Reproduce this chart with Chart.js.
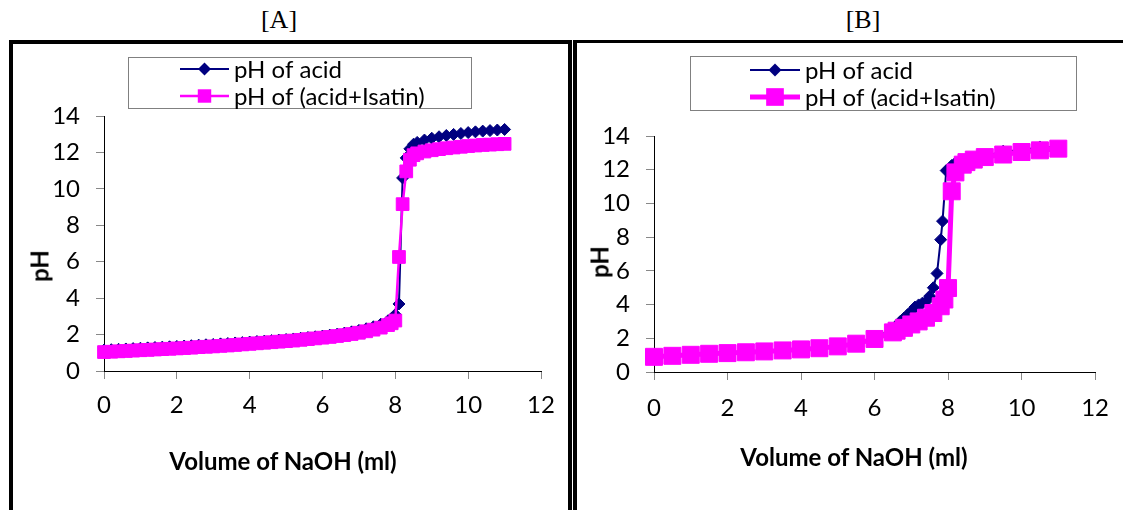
<!DOCTYPE html>
<html>
<head>
<meta charset="utf-8">
<script src="https://cdn.jsdelivr.net/npm/chart.js"></script>
<style>
  body { margin:0; width:1123px; height:510px; background:#fff; overflow:hidden; position:relative; font-family: Lato, sans-serif; }
  .panelTitle { position:absolute; top:5px; font-family:"Liberation Serif", serif; font-size:26px; color:#000; transform:translateX(-50%); }
  #frameA { position:absolute; left:9px; top:40px; width:555px; height:600px; border:4px solid #000; }
  #frameB { position:absolute; left:573px; top:40px; width:600px; height:600px; border-top:3px solid #000; border-left:4px solid #000; }
  canvas { position:absolute; }
  .xTitle { position:absolute; font-weight:bold; font-size:24px; color:#000; white-space:nowrap; transform:translate(-50%,-50%); }
  .yTitle { position:absolute; font-weight:bold; font-size:24px; color:#000; transform:translate(-50%,-50%) rotate(-90deg); }
</style>
</head>
<body>
<div class="panelTitle" style="left:279px">[A]</div>
<div class="panelTitle" style="left:863px">[B]</div>
<div id="frameA"></div>
<div id="frameB"></div>
<canvas id="chartA" width="555" height="466" style="left:13px;top:44px"></canvas>
<canvas id="chartB" width="546" height="466" style="left:577px;top:44px"></canvas>
<div class="yTitle" style="left:39px;top:266px">pH</div>
<div class="yTitle" style="left:599px;top:262px">pH</div>
<div class="xTitle" style="left:283px;top:460px">Volume of NaOH (ml)</div>
<div class="xTitle" style="left:854px;top:456px">Volume of NaOH (ml)</div>
<script>
// [A] titration, same volumes for both series
const volA = [0, 0.2, 0.4, 0.6, 0.8, 1, 1.2, 1.4, 1.6, 1.8, 2, 2.2, 2.4, 2.6, 2.8, 3, 3.2, 3.4, 3.6, 3.8,
  4, 4.2, 4.4, 4.6, 4.8, 5, 5.2, 5.4, 5.6, 5.8, 6, 6.2, 6.4, 6.6, 6.8, 7, 7.2, 7.4, 7.6, 7.8,
  7.9, 8, 8.1, 8.2, 8.3, 8.4, 8.5, 8.6, 8.8, 9, 9.2, 9.4, 9.6, 9.8, 10, 10.2, 10.4, 10.6, 10.8, 11];
const acidA = [1.15, 1.17, 1.19, 1.21, 1.23, 1.25, 1.27, 1.29, 1.31, 1.33,
  1.35, 1.37, 1.39, 1.42, 1.44, 1.46, 1.49, 1.51, 1.54, 1.56,
  1.59, 1.62, 1.64, 1.67, 1.70, 1.73, 1.76, 1.80, 1.84, 1.88,
  1.92, 1.97, 2.02, 2.08, 2.15, 2.23, 2.32, 2.43, 2.57, 2.76,
  2.9, 3.1, 3.68, 10.6, 11.7, 12.2, 12.45, 12.55,
  12.68, 12.78, 12.86, 12.93, 12.99, 13.04, 13.09, 13.13, 13.17, 13.2, 13.23, 13.26];
const isatinA = [1.04, 1.06, 1.08, 1.10, 1.12, 1.14, 1.16, 1.18, 1.20, 1.22,
  1.24, 1.26, 1.28, 1.31, 1.33, 1.35, 1.38, 1.40, 1.43, 1.46,
  1.49, 1.52, 1.55, 1.58, 1.61, 1.64, 1.67, 1.71, 1.75, 1.79,
  1.83, 1.87, 1.92, 1.97, 2.03, 2.1, 2.18, 2.27, 2.38, 2.52,
  2.62, 2.77, 6.26, 9.16, 10.96, 11.6, 11.85, 11.95,
  12.05, 12.12, 12.18, 12.23, 12.27, 12.31, 12.35, 12.38, 12.41, 12.43, 12.45, 12.47];

// [B]
const volB_acid = [0, 0.5, 1, 1.5, 2, 2.5, 3, 3.5, 4, 4.5, 5, 5.5, 6, 6.5,
  6.6, 6.7, 6.8, 6.9, 7, 7.1, 7.2, 7.3, 7.4, 7.5, 7.6, 7.7, 7.8, 7.85, 7.95,
  8.1, 8.2, 8.4, 8.6, 8.8, 9, 9.5, 10, 10.5, 11];
const acidB = [0.95, 1.0, 1.05, 1.1, 1.15, 1.2, 1.25, 1.3, 1.36, 1.43, 1.55, 1.72, 2.02, 2.55,
  2.75, 3.0, 3.2, 3.4, 3.6, 3.85, 3.98, 4.08, 4.18, 4.5, 5.0, 5.85, 7.85, 8.95, 11.95,
  12.25, 12.4, 12.5, 12.6, 12.7, 12.8, 13.1, 13.15, 13.35, 13.3];
const volB_isatin = [0, 0.5, 1, 1.5, 2, 2.5, 3, 3.5, 4, 4.5, 5, 5.5, 6, 6.5,
  6.6, 6.8, 7, 7.2, 7.4, 7.6, 7.8, 7.9, 8, 8.1, 8.2, 8.4, 8.5, 8.7, 9, 9.5, 10, 10.5, 11];
const isatinB = [0.9, 0.96, 1.02, 1.08, 1.12, 1.17, 1.22, 1.28, 1.34, 1.41, 1.52, 1.68, 1.96, 2.35,
  2.45, 2.62, 2.82, 3.0, 3.22, 3.5, 3.9, 4.3, 4.98, 10.72, 11.84, 12.3, 12.45, 12.6, 12.75, 12.9, 13.05, 13.15, 13.25];

const xTicks = [0, 2, 4, 6, 8, 10, 12];
const yTicks = [0, 2, 4, 6, 8, 10, 12, 14];
const labels = ['pH of acid', 'pH of (acid+Isatin)'];

const NAVY = '#000080', PINK = '#ff00ff';
const tickFont = {family: 'Lato', size: 24};

function pts(xs, ys){ return xs.map((x,i)=>({x:x, y:ys[i]})); }

function drawMarker(ctx, style, x, y, r){
  ctx.beginPath();
  if (style === 'rectRot') {
    ctx.moveTo(x, y-r); ctx.lineTo(x+r, y); ctx.lineTo(x, y+r); ctx.lineTo(x-r, y);
  } else {
    const s = r*Math.SQRT1_2;
    ctx.rect(x-s, y-s, 2*s, 2*s);
  }
  ctx.closePath();
  ctx.fill();
}

// boxed legend with line + marker samples
const boxLegend = {
  id: 'boxLegend',
  afterDraw(chart, args, o){
    const ctx = chart.ctx;
    ctx.save();
    ctx.strokeStyle = '#808080'; ctx.lineWidth = 1;
    ctx.strokeRect(o.x+0.5, o.y+0.5, o.w, o.h);
    chart.data.datasets.forEach((ds,i)=>{
      const y = o.rows[i];
      ctx.strokeStyle = ds.borderColor; ctx.lineWidth = ds.borderWidth;
      ctx.beginPath(); ctx.moveTo(o.x1, y); ctx.lineTo(o.x2, y); ctx.stroke();
      ctx.fillStyle = ds.pointBackgroundColor;
      drawMarker(ctx, ds.pointStyle, (o.x1+o.x2)/2, y, ds.pointRadius+0.5);
      ctx.fillStyle = '#000'; ctx.font = o.font; ctx.textBaseline = 'middle'; ctx.textAlign = 'left';
      ctx.fillText(ds.label, o.textX, y+1);
    });
    ctx.restore();
  }
};

function makeChart(id, sets, lay, leg){
  return new Chart(document.getElementById(id), {
    type: 'line',
    data: { datasets: sets },
    plugins: [boxLegend],
    options: {
      responsive:false, animation:false, devicePixelRatio:1,
      layout: { padding: lay.padding },
      plugins: { legend:{display:false}, tooltip:{enabled:false}, boxLegend: leg },
      scales: {
        x: {
          type:'linear', min:0, max:12,
          afterBuildTicks: s => { s.ticks = xTicks.map(v=>({value:v})); },
          afterFit: s => { s.height = lay.xh; },
          ticks: { color:'#000', font:tickFont, padding:lay.xpad, maxRotation:0 },
          grid: { drawOnChartArea:false, color:'#888', tickLength:8 },
          border: { color:'#000', width:1 }
        },
        y: {
          min:0, max:14,
          afterBuildTicks: s => { s.ticks = yTicks.map(v=>({value:v})); },
          afterFit: s => { s.width = lay.yw; },
          ticks: { color:'#000', font:tickFont, padding:16 },
          grid: { drawOnChartArea:false, color:'#888', tickLength:8 },
          border: { color:'#000', width:1 }
        }
      }
    }
  });
}

makeChart('chartA', [
  { label:labels[0], data:pts(volA, acidA), borderColor:NAVY, borderWidth:2, pointStyle:'rectRot', pointRadius:6,
    pointBackgroundColor:NAVY, pointBorderColor:NAVY, pointBorderWidth:1, tension:0, clip:false, order:2 },
  { label:labels[1], data:pts(volA, isatinA), borderColor:PINK, borderWidth:2.5, pointStyle:'rect', pointRadius:9,
    pointBackgroundColor:PINK, pointBorderColor:PINK, pointBorderWidth:1, tension:0, clip:false, order:1 }
], {padding:{left:0, top:72, right:27, bottom:0}, xh:139, yw:91, xpad:12},
   {x:115, y:13, w:343, h:51, rows:[25,52], x1:167, x2:216, textX:221, font:'24px Lato'});

makeChart('chartB', [
  { label:labels[0], data:pts(volB_acid, acidB), borderColor:NAVY, borderWidth:2, pointStyle:'rectRot', pointRadius:6,
    pointBackgroundColor:NAVY, pointBorderColor:NAVY, pointBorderWidth:1, tension:0, clip:false, order:2 },
  { label:labels[1], data:pts(volB_isatin, isatinB), borderColor:PINK, borderWidth:5, pointStyle:'rect', pointRadius:12,
    pointBackgroundColor:PINK, pointBorderColor:PINK, pointBorderWidth:1, tension:0, clip:false, order:1 }
], {padding:{left:0, top:92, right:21, bottom:0}, xh:138, yw:77, xpad:14},
   {x:113, y:12, w:386, h:54, rows:[26,53], x1:173, x2:223, textX:228, font:'24px Lato'});
</script>
</body>
</html>
